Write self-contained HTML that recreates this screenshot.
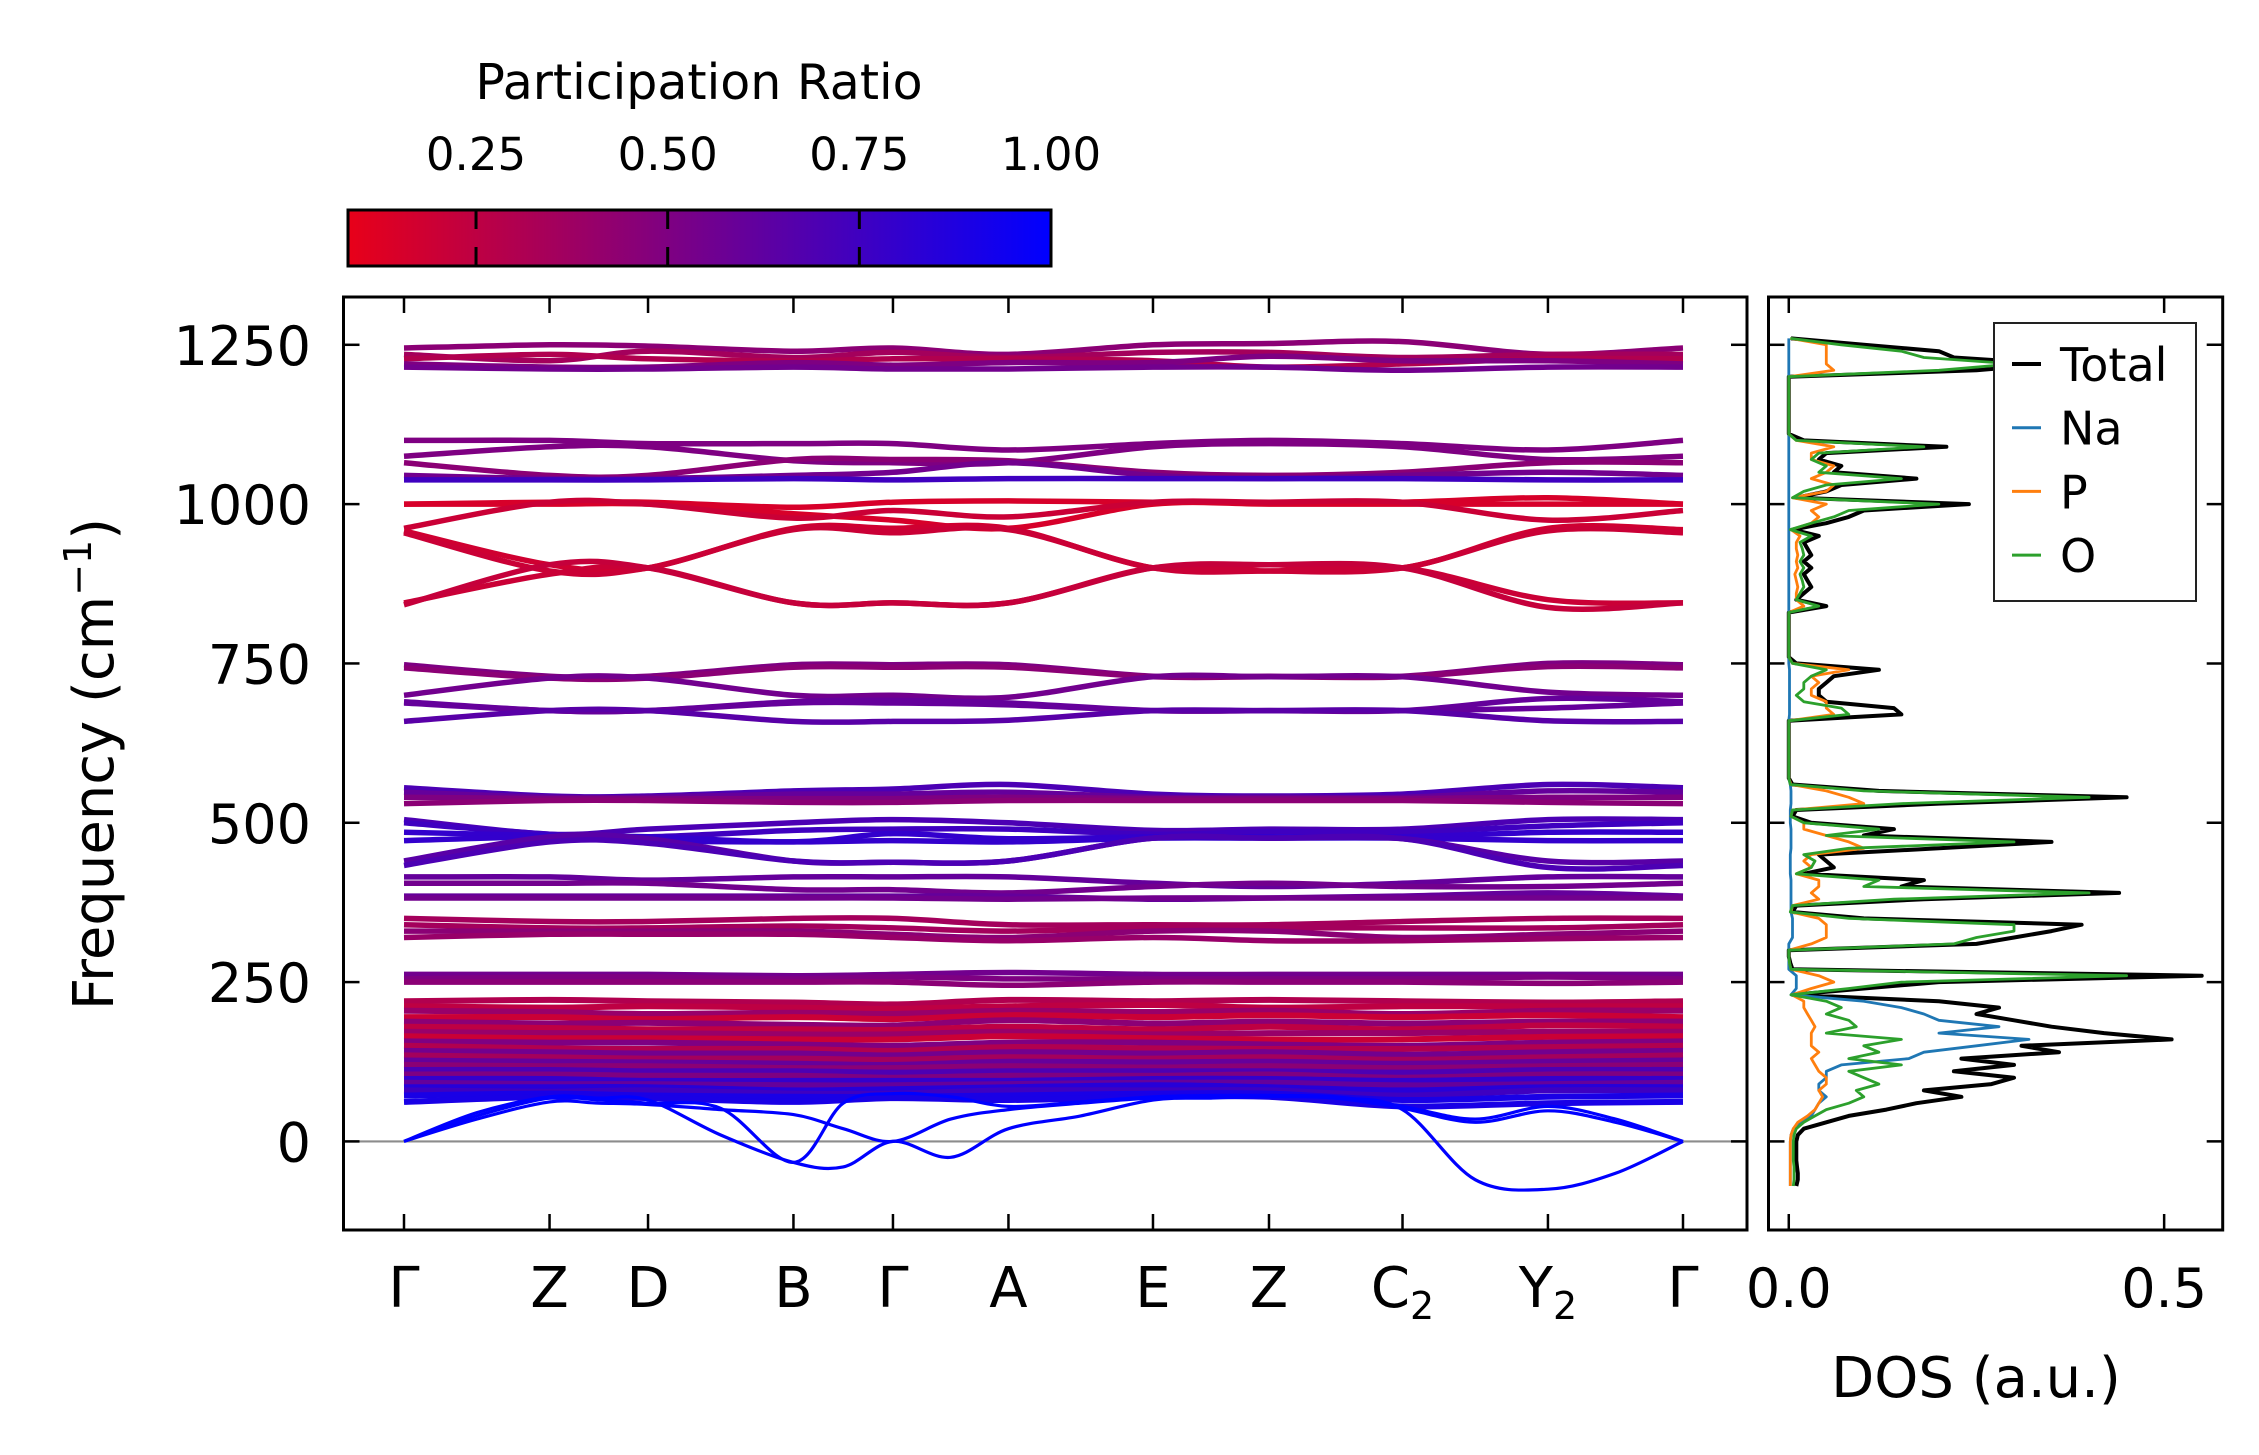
<!DOCTYPE html>
<html><head><meta charset="utf-8"><style>
html,body{margin:0;padding:0;background:#fff}
svg{display:block}
text{font-family:"DejaVu Sans","Liberation Sans",sans-serif;fill:#000}
</style></head><body>
<svg id="fig" xmlns="http://www.w3.org/2000/svg" width="2259" height="1455" viewBox="0 0 2259 1455">
<defs>
<linearGradient id="cmap" x1="0" x2="1" y1="0" y2="0">
<stop offset="0" stop-color="rgb(232,0,25)"/><stop offset="1" stop-color="rgb(0,0,255)"/>
</linearGradient>
<clipPath id="clipMain"><rect x="343.5" y="297" width="1403.5" height="933"/></clipPath>
<clipPath id="clipDos"><rect x="1768.5" y="297" width="454" height="933"/></clipPath>
</defs>
<g id="colorbar">
<text x="699" y="99" font-size="49" text-anchor="middle">Participation Ratio</text>
<rect x="348" y="210" width="703" height="56" fill="url(#cmap)" stroke="#000" stroke-width="3"/>
<g id="cbTicks"></g>
</g>
<g id="mainAxes">
<g id="bands" clip-path="url(#clipMain)"></g>
<g id="mainFrame"></g>
</g>
<g id="dosAxes">
<g id="dosLines" clip-path="url(#clipDos)"></g>
<g id="dosFrame"></g>
</g>
<text transform="translate(113,764) rotate(-90)" font-size="56" text-anchor="middle">Frequency (cm<tspan font-size="38" dy="-22">−1</tspan><tspan dy="22">)</tspan></text>
<text x="1976" y="1397" font-size="56" text-anchor="middle">DOS (a.u.)</text>
<g id="legend">
<rect x="1994" y="323" width="202" height="278" fill="#fff" stroke="#222" stroke-width="2"/>
</g>
</svg>
<script>
// ---------- data ----------
const kLabels = ["Γ","Z","D","B","Γ","A","E","Z","C","Y","Γ"];
const kSubs   = ["","","","","","","","","2","2",""];
const kDist   = [0,0.1138,0.1908,0.3045,0.3823,0.4726,0.5856,0.6763,0.7807,0.8944,1.0];
const yTicks  = [0,250,500,750,1000,1250];
const cbTicks = [0.25,0.50,0.75,1.00];
const dosTicks = [0.0,0.5];

const bandsHigh = [
[1245,1250,1248,1240,1245,1235,1250,1252,1255,1235,1245],
[1235,1225,1240,1230,1238,1230,1238,1238,1230,1235,1235],
[1228,1235,1228,1225,1228,1228,1225,1215,1220,1228,1228],
[1220,1215,1215,1222,1218,1222,1222,1232,1225,1225,1220],
[1215,1212,1212,1215,1212,1212,1215,1215,1210,1215,1215],
[1100,1100,1095,1095,1095,1085,1095,1100,1095,1085,1100],
[1075,1090,1090,1068,1065,1065,1090,1095,1090,1070,1075],
[1065,1045,1045,1070,1070,1068,1050,1045,1050,1065,1065],
[1045,1040,1040,1045,1050,1065,1045,1040,1045,1050,1045],
[1038,1038,1038,1040,1038,1040,1040,1040,1040,1038,1038]];
const ratiosHigh = [0.45,0.35,0.3,0.5,0.55,0.5,0.5,0.45,0.55,0.75];

const bandsRed = [
[1000,1003,1003,995,1003,1005,1003,1003,1003,1010,1000],
[1000,1000,1000,985,975,962,1000,1000,1000,1000,1000],
[962,1003,1000,978,990,980,1003,1003,1003,975,990],
[958,905,900,962,962,962,900,905,900,962,960],
[955,895,900,960,955,960,900,895,900,958,955],
[845,890,900,845,845,845,900,895,900,850,845],
[842,905,900,845,845,845,900,905,900,838,845]];
const ratiosRed = [0.15,0.15,0.2,0.18,0.2,0.2,0.22];

const bandsMid = [
[748,730,730,748,748,748,730,730,730,750,748],
[743,727,727,744,744,744,729,729,729,745,743],
[700,727,727,700,700,697,729,729,729,705,700],
[690,676,676,690,692,688,676,676,676,695,690],
[688,676,676,688,688,685,676,676,676,680,688],
[659,676,676,659,659,661,676,676,676,660,659],
[555,542,542,550,553,560,545,542,545,560,555],
[548,540,540,545,545,548,540,540,540,550,548],
[540,538,538,538,538,540,538,538,538,540,540],
[530,535,535,532,532,535,535,535,535,532,530],
[505,482,490,500,505,500,488,490,490,505,505],
[500,482,478,488,490,490,482,486,485,495,500],
[485,480,478,470,483,475,478,478,478,485,485],
[472,478,472,470,472,470,476,476,476,472,472],
[440,478,475,440,438,440,476,476,475,440,440],
[433,470,468,440,438,440,476,476,475,430,433],
[415,415,410,415,415,415,405,400,405,415,415],
[405,405,405,395,395,390,400,405,400,400,405],
[385,385,385,385,385,385,380,382,385,390,385],
[382,382,382,382,382,380,382,382,382,382,382],
[350,345,345,350,350,340,340,340,345,350,350],
[340,335,335,338,335,330,335,335,335,335,340],
[330,330,330,330,325,320,330,330,320,325,330],
[320,325,325,325,320,315,320,315,315,318,320],
[262,262,262,260,262,265,262,262,262,262,262],
[255,258,258,255,258,255,255,255,255,258,255],
[250,250,250,250,250,245,250,250,250,248,250]];
const ratiosMid = [0.5,0.45,0.55,0.6,0.6,0.65,0.7,0.6,0.5,0.45,0.7,0.75,0.8,0.8,0.65,0.7,0.6,0.55,0.6,0.55,0.35,0.35,0.45,0.4,0.55,0.5,0.45];

const bandsLow = [
[220,222,220,218,215,222,220,222,220,218,220],
[212,210,212,210,208,212,214,210,212,212,212],
[205,203,200,202,200,205,203,205,200,205,205],
[195,195,192,195,192,198,195,198,195,198,195],
[188,185,186,183,182,190,185,188,185,188,188],
[180,178,176,176,175,180,176,180,176,182,180],
[172,170,170,168,168,172,168,170,170,172,172],
[165,162,162,160,160,165,162,160,160,164,165],
[157,155,155,152,150,155,155,152,150,155,157],
[150,146,145,145,142,148,146,145,145,148,150],
[142,140,138,138,135,140,138,140,136,140,142],
[135,132,130,130,128,132,130,132,128,132,135],
[127,125,124,122,120,125,124,125,122,125,127],
[120,118,118,115,115,118,116,118,115,118,120],
[112,112,110,110,108,110,110,110,108,112,112],
[105,105,103,103,100,103,103,105,100,105,105],
[98,98,95,95,95,95,98,98,95,98,98],
[92,90,90,88,88,90,92,92,88,90,92],
[85,85,85,80,82,85,88,85,80,85,85],
[80,78,80,75,75,80,80,80,72,80,80],
[72,75,72,70,70,72,75,75,65,70,72],
[62,70,68,62,68,65,70,70,55,60,62]];
const ratiosLow = [0.3,0.25,0.4,0.2,0.45,0.25,0.4,0.2,0.5,0.3,0.55,0.35,0.6,0.45,0.7,0.5,0.8,0.6,0.85,0.75,0.9,0.9];

const bandsAcoustic = [
[0,45,70,68,65,10,-33,-40,0,-25,20,40,65,68,70,68,50,-60,-75,-50,0],
[0,35,62,60,58,50,42,20,0,35,50,60,68,70,72,68,52,30,48,30,0],
[0,40,68,65,60,52,-33,60,75,70,55,62,70,72,72,70,55,35,55,35,0]];
const ratiosAcoustic = [1.0,1.0,1.0];

const dosFreq = [-70,-60,-50,-40,-30,-20,-10,0,10,20,30,40,50,60,70,80,90,100,110,120,130,140,150,160,170,180,190,200,210,220,230,240,250,260,270,280,290,300,310,320,330,340,350,360,370,380,390,400,410,420,430,440,450,460,470,480,490,500,510,520,530,540,550,560,570,660,670,680,690,700,710,720,730,740,750,760,830,840,850,860,870,880,890,900,910,920,930,940,950,960,970,980,990,1000,1010,1020,1030,1040,1050,1060,1070,1080,1090,1100,1110,1200,1210,1220,1230,1240,1250,1260];
const dosTotal = [.01,.012,.012,.011,.01,.01,.01,.01,.012,.02,.05,.08,.13,.17,.23,.18,.27,.3,.22,.3,.23,.36,.31,.51,.42,.35,.3,.25,.28,.2,.005,.1,.2,.55,.005,.002,0,0,.25,.3,.35,.39,.1,.005,.01,.18,.44,.15,.18,.02,.06,.05,.04,.2,.35,.1,.14,.03,.005,.01,.2,.45,.12,.005,0,0,.15,.14,.05,.04,.04,.05,.06,.12,.01,0,0,.05,.01,.02,.03,.025,.02,.03,.02,.03,.025,.02,.04,.005,.05,.08,.1,.24,.01,.05,.07,.17,.06,.07,.04,.05,.21,.02,0,0,.25,.35,.22,.2,.1,.003];
const dosNa = [.002,.002,.002,.002,.002,.002,.002,.002,.003,.006,.015,.03,.035,.04,.05,.04,.04,.05,.05,.07,.16,.18,.25,.32,.2,.28,.2,.18,.15,.1,.003,.01,.01,.01,0,0,0,0,0,.005,.005,.005,.005,.003,.003,.003,.003,.003,.003,.002,.002,.002,.002,.003,.003,.003,.003,.002,.002,.002,.003,.003,.003,.002,0,0,.001,.001,.001,.001,.001,.001,.001,.001,0,0,0,0,0,0,0,0,0,0,0,0,0,0,0,0,0,0,0,0,0,0,0,0,0,0,0,0,0,0,0,0,0,0,0,0,0,0];
const dosP = [.002,.002,.002,.002,.002,.002,.002,.002,.003,.006,.012,.025,.035,.04,.045,.04,.05,.05,.04,.035,.03,.04,.03,.03,.03,.035,.03,.025,.02,.02,.004,.03,.06,.04,.003,.001,0,0,.03,.05,.05,.05,.04,.003,.005,.04,.03,.04,.04,.01,.03,.02,.03,.1,.08,.05,.02,.02,.003,.005,.1,.08,.05,.003,0,0,.06,.05,.05,.03,.03,.04,.03,.08,.005,0,0,.02,.01,.01,.012,.01,.008,.012,.01,.012,.01,.01,.015,.003,.03,.04,.03,.05,.005,.05,.06,.03,.05,.06,.03,.03,.06,.01,0,0,.06,.05,.05,.05,.05,.002];
const dosO = [.006,.007,.007,.007,.006,.006,.006,.006,.007,.01,.02,.035,.05,.08,.1,.09,.12,.1,.08,.15,.08,.12,.1,.15,.05,.09,.08,.05,.07,.05,.003,.08,.15,.45,.003,.001,0,0,.22,.25,.3,.3,.08,.002,.005,.14,.4,.1,.12,.01,.03,.035,.02,.08,.3,.05,.12,.02,.003,.005,.15,.4,.1,.002,0,0,.08,.07,.02,.01,.02,.02,.03,.05,.005,0,0,.04,.01,.015,.02,.018,.015,.02,.015,.02,.018,.015,.03,.002,.03,.06,.08,.2,.005,.02,.05,.15,.04,.05,.03,.04,.18,.01,0,0,.2,.3,.18,.15,.07,.002];

// ---------- scales ----------
const NS = "http://www.w3.org/2000/svg";
const mainL = 343.5, mainR = 1747, plotTop = 297, plotBot = 1230;
const kX0 = 404, kX1 = 1683;
const yMin = -139, yMax = 1325;
function xK(k){ return kX0 + k*(kX1-kX0); }
function yF(v){ return plotBot - (v - yMin)/(yMax - yMin)*(plotBot - plotTop); }
const dosL = 1768.5, dosR = 2222.7, dosMin = -0.027, dosMax = 0.578;
function xD(d){ return dosL + (d - dosMin)/(dosMax - dosMin)*(dosR - dosL); }
const cbL = 348, cbR = 1051, cbMin = 0.083, cbMax = 1.0;
function xCb(r){ return cbL + (r - cbMin)/(cbMax - cbMin)*(cbR - cbL); }
function colorOf(r){
  let t = Math.max(0, Math.min(1, (r - cbMin)/(cbMax - cbMin)));
  return "rgb(" + Math.round(232*(1-t)) + ",0," + Math.round(25 + 230*t) + ")";
}
function mk(tag, attrs, parent){
  const e = document.createElementNS(NS, tag);
  for (const k in attrs) e.setAttribute(k, attrs[k]);
  parent.appendChild(e);
  return e;
}
function spline(pts){
  let d = "M" + pts[0][0].toFixed(1) + "," + pts[0][1].toFixed(1);
  for (let i = 0; i < pts.length - 1; i++){
    const p0 = pts[i-1] || pts[i], p1 = pts[i], p2 = pts[i+1], p3 = pts[i+2] || pts[i+1];
    const c1x = p1[0] + (p2[0]-p0[0])/6, c1y = p1[1] + (p2[1]-p0[1])/6;
    const c2x = p2[0] - (p3[0]-p1[0])/6, c2y = p2[1] - (p3[1]-p1[1])/6;
    d += " C" + c1x.toFixed(1) + "," + c1y.toFixed(1) + " " + c2x.toFixed(1) + "," + c2y.toFixed(1) + " " + p2[0].toFixed(1) + "," + p2[1].toFixed(1);
  }
  return d;
}
function nodeKs(n){
  if (n === kDist.length) return kDist.slice();
  const ks = [];
  for (let i = 0; i < kDist.length; i++){
    ks.push(kDist[i]);
    if (i < kDist.length - 1) ks.push((kDist[i] + kDist[i+1])/2);
  }
  return ks;
}

// ---------- colorbar ticks ----------
const cbT = document.getElementById("cbTicks");
cbTicks.forEach(function(v){
  const x = xCb(v);
  if (v < 0.99){
    const t1 = mk("line", {x1:x, x2:x, y1:210, y2:229, stroke:"#000", "stroke-width":3}, cbT);
    
    
    const t2 = mk("line", {x1:x, x2:x, y1:247, y2:266, stroke:"#000", "stroke-width":3}, cbT);
    
    
  }
  const lb = mk("text", {x:x, y:170, "font-size":45, "text-anchor":"middle"}, cbT);
  lb.textContent = v.toFixed(2);
  
  
});

// ---------- bands ----------
const gB = document.getElementById("bands");
const zl = mk("line", {x1:mainL, x2:mainR, y1:yF(0), y2:yF(0), stroke:"#8c8c8c", "stroke-width":2.2}, gB);


function drawGroup(bands, ratios, name, w){
  bands.forEach(function(vals, i){
    const ks = nodeKs(vals.length);
    const pts = vals.map(function(v, j){ return [xK(ks[j]), yF(v)]; });
    const p = mk("path", {d:spline(pts), fill:"none", stroke:colorOf(ratios[i]), "stroke-width":w, "stroke-linejoin":"round", "stroke-linecap":"butt"}, gB);
    
    
  });
}
drawGroup(bandsLow, ratiosLow, "phonon-band-low", 6);
drawGroup(bandsMid, ratiosMid, "phonon-band-mid", 5.5);
drawGroup(bandsRed, ratiosRed, "phonon-band-po-stretch", 5.5);
drawGroup(bandsHigh, ratiosHigh, "phonon-band-high", 5.5);
drawGroup(bandsAcoustic, ratiosAcoustic, "acoustic-band", 3.2);

// ---------- main frame & ticks ----------
const gF = document.getElementById("mainFrame");
const fr = mk("rect", {x:mainL, y:plotTop, width:mainR-mainL, height:plotBot-plotTop, fill:"none", stroke:"#000", "stroke-width":3}, gF);


kDist.forEach(function(k, i){
  const x = xK(k);
  const a = mk("line", {x1:x, x2:x, y1:plotBot, y2:plotBot-16, stroke:"#000", "stroke-width":2.5}, gF);
  
  
  const b = mk("line", {x1:x, x2:x, y1:plotTop, y2:plotTop+16, stroke:"#000", "stroke-width":2.5}, gF);
  
  
  const t = mk("text", {x:x, y:1307, "font-size":56, "text-anchor":"middle"}, gF);
  
  
  t.appendChild(document.createTextNode(kLabels[i]));
  if (kSubs[i]){
    const s = document.createElementNS(NS, "tspan");
    s.setAttribute("font-size", "38"); s.setAttribute("dy", "12");
    s.textContent = kSubs[i];
    t.appendChild(s);
  }
});
yTicks.forEach(function(v){
  const y = yF(v);
  const a = mk("line", {x1:mainL, x2:mainL+16, y1:y, y2:y, stroke:"#000", "stroke-width":2.5}, gF);
  
  
  const b = mk("line", {x1:mainR, x2:mainR-16, y1:y, y2:y, stroke:"#000", "stroke-width":2.5}, gF);
  
  
  const t = mk("text", {x:311, y:y+20, "font-size":54, "text-anchor":"end"}, gF);
  t.textContent = String(v);
  
  
});

// ---------- DOS ----------
const gD = document.getElementById("dosLines");
function dosLine(vals, color, w, name){
  const pts = vals.map(function(d, i){ return xD(d).toFixed(1) + "," + yF(dosFreq[i]).toFixed(1); }).join(" ");
  const p = mk("polyline", {points:pts, fill:"none", stroke:color, "stroke-width":w, "stroke-linejoin":"round"}, gD);
  
  
}
dosLine(dosTotal, "#000", 4, "dos-total-line");
dosLine(dosNa, "#1f77b4", 2.8, "dos-na-line");
dosLine(dosP, "#ff7f0e", 2.8, "dos-p-line");
dosLine(dosO, "#2ca02c", 2.8, "dos-o-line");
const gDF = document.getElementById("dosFrame");
const dfr = mk("rect", {x:dosL, y:plotTop, width:dosR-dosL, height:plotBot-plotTop, fill:"none", stroke:"#000", "stroke-width":3}, gDF);


yTicks.forEach(function(v){
  const y = yF(v);
  const a = mk("line", {x1:dosL, x2:dosL+16, y1:y, y2:y, stroke:"#000", "stroke-width":2.5}, gDF);
  
  
  const b = mk("line", {x1:dosR, x2:dosR-16, y1:y, y2:y, stroke:"#000", "stroke-width":2.5}, gDF);
  
  
});
dosTicks.forEach(function(d){
  const x = xD(d);
  const a = mk("line", {x1:x, x2:x, y1:plotBot, y2:plotBot-16, stroke:"#000", "stroke-width":2.5}, gDF);
  
  
  const b = mk("line", {x1:x, x2:x, y1:plotTop, y2:plotTop+16, stroke:"#000", "stroke-width":2.5}, gDF);
  
  
  const t = mk("text", {x:x, y:1307, "font-size":54, "text-anchor":"middle"}, gDF);
  t.textContent = d.toFixed(1);
  
  
});

// ---------- legend ----------
const legNames = ["Total","Na","P","O"];
const legColors = ["#000","#1f77b4","#ff7f0e","#2ca02c"];
const gL = document.getElementById("legend");
legNames.forEach(function(n, i){
  const y = 364 + i*63.7;
  const l = mk("line", {x1:2012, x2:2041, y1:y, y2:y, stroke:legColors[i], "stroke-width":i===0?4:3}, gL);
  
  
  const t = mk("text", {x:2060, y:y+17, "font-size":46}, gL);
  t.textContent = n;
  
  
});
</script>
</body></html>
